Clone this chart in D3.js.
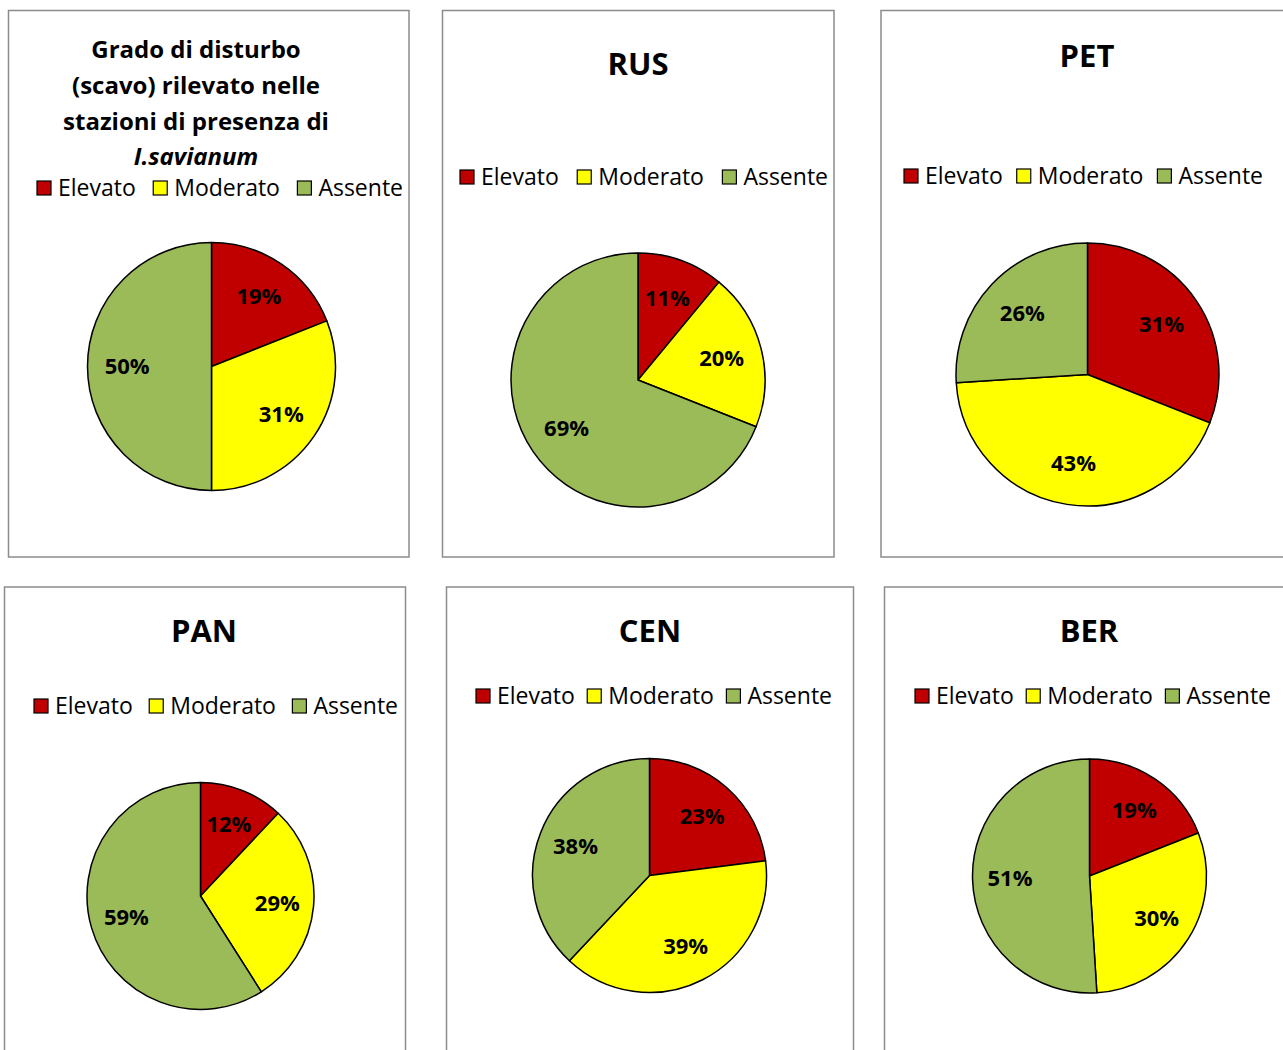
<!DOCTYPE html>
<html>
<head>
<meta charset="utf-8">
<script src="https://cdn.jsdelivr.net/npm/d3@7"></script>
<style>
  html, body { margin: 0; padding: 0; background: #fff; }
  svg { display: block; }
  text { font-family: "Open Sans", Lato, sans-serif; fill: #000; }
</style>
</head>
<body>
<svg id="chart" width="1283" height="1050"></svg>
<script>
// Disturbance degree (excavation) per station
const categories = ["Elevato", "Moderato", "Assente"];
const titles = [
  ["Grado di disturbo", "(scavo) rilevato nelle", "stazioni di presenza di", "I.savianum"],
  ["RUS"], ["PET"], ["PAN"], ["CEN"], ["BER"]
];
const elevato  = [19, 11, 31, 12, 23, 19];
const moderato = [31, 20, 43, 29, 39, 30];
const assente  = [50, 69, 26, 59, 38, 51];

const colors = ["#C00000", "#FFFF00", "#9BBB59"];

// Panel geometry: frame, title, legend row and pie placement
const layout = [
  { box: [8.5, 10.5, 409, 557], titleX: 196, titleY: [50, 86, 122, 157], titleSize: 24, italic: [false, false, false, true],
    legY: 188, legX0: 37, legX1: 403, cx: 211.5, cy: 366.5, r: 124 },
  { box: [442.5, 10.5, 834, 557], titleX: 638, titleY: [64], titleSize: 31, italic: [false],
    legY: 177, legX0: 460, legX1: 828, cx: 638, cy: 380, r: 127 },
  { box: [881, 10.5, 1300, 557], titleX: 1087, titleY: [56], titleSize: 31, italic: [false],
    legY: 176, legX0: 904, legX1: 1263, cx: 1087.5, cy: 374.5, r: 131.5 },
  { box: [4.5, 587, 405.5, 1070], titleX: 204, titleY: [631.5], titleSize: 31, italic: [false],
    legY: 706, legX0: 34, legX1: 398, cx: 200.5, cy: 896, r: 113.5 },
  { box: [446.5, 587, 853.5, 1070], titleX: 650, titleY: [631.5], titleSize: 31, italic: [false],
    legY: 696, legX0: 476, legX1: 832, cx: 649.5, cy: 875.5, r: 117 },
  { box: [884.5, 587, 1300, 1070], titleX: 1089, titleY: [631.5], titleSize: 31, italic: [false],
    legY: 696, legX0: 915, legX1: 1271, cx: 1089.5, cy: 876, r: 117 }
];

const svg = d3.select("#chart");
const pie = d3.pie().sort(null).value(d => d.value);
const color = d3.scaleOrdinal().domain(categories).range(colors);

const LEG_FONT = 23, LABEL_FONT = 22, SWATCH = 14, SWATCH_GAP = 7;

layout.forEach((L, i) => {
  const g = svg.append("g");
  const [x0, y0, x1, y1] = L.box;

  g.append("rect")
    .attr("x", x0).attr("y", y0)
    .attr("width", x1 - x0).attr("height", y1 - y0)
    .attr("fill", "#fff")
    .attr("stroke", "#8c8c8c")
    .attr("stroke-width", 1.5);

  // Title
  titles[i].forEach((line, k) => {
    g.append("text")
      .attr("x", L.titleX).attr("y", L.titleY[k])
      .attr("dy", "0.35em")
      .attr("text-anchor", "middle")
      .style("font-size", L.titleSize + "px")
      .style("font-weight", "bold")
      .style("font-style", L.italic[k] ? "italic" : "normal")
      .text(line);
  });

  // Legend: measure labels, then spread the three items across the row
  const leg = g.append("g");
  const items = categories.map(c => {
    const it = leg.append("g");
    it.append("rect")
      .attr("width", SWATCH).attr("height", SWATCH)
      .attr("y", -SWATCH / 2)
      .attr("fill", color(c))
      .attr("stroke", "#000").attr("stroke-width", 1.2);
    const t = it.append("text")
      .attr("x", SWATCH + SWATCH_GAP)
      .attr("dy", "0.35em")
      .style("font-size", LEG_FONT + "px")
      .text(c);
    return { it, w: SWATCH + SWATCH_GAP + t.node().getComputedTextLength() };
  });
  const total = d3.sum(items, d => d.w);
  const gap = (L.legX1 - L.legX0 - total) / (items.length - 1);
  let cursor = L.legX0;
  items.forEach(d => {
    d.it.attr("transform", `translate(${cursor},${L.legY})`);
    cursor += d.w + gap;
  });

  // Pie
  const data = categories.map((c, k) => ({
    cat: c,
    value: [elevato, moderato, assente][k][i]
  }));
  const arcs = pie(data);
  const arc = d3.arc().innerRadius(0).outerRadius(L.r);
  const labelArc = d3.arc().innerRadius(L.r * 0.68).outerRadius(L.r * 0.68);

  const pg = g.append("g").attr("transform", `translate(${L.cx},${L.cy})`);
  pg.selectAll("path").data(arcs).join("path")
    .attr("d", arc)
    .attr("fill", d => color(d.data.cat))
    .attr("stroke", "#000")
    .attr("stroke-width", 1.5)
    .attr("stroke-linejoin", "round");

  pg.selectAll("text").data(arcs).join("text")
    .attr("transform", d => `translate(${labelArc.centroid(d)})`)
    .attr("dy", "0.35em")
    .attr("text-anchor", "middle")
    .style("font-size", LABEL_FONT + "px")
    .style("font-weight", "bold")
    .text(d => d.data.value + "%");
});
</script>
</body>
</html>
